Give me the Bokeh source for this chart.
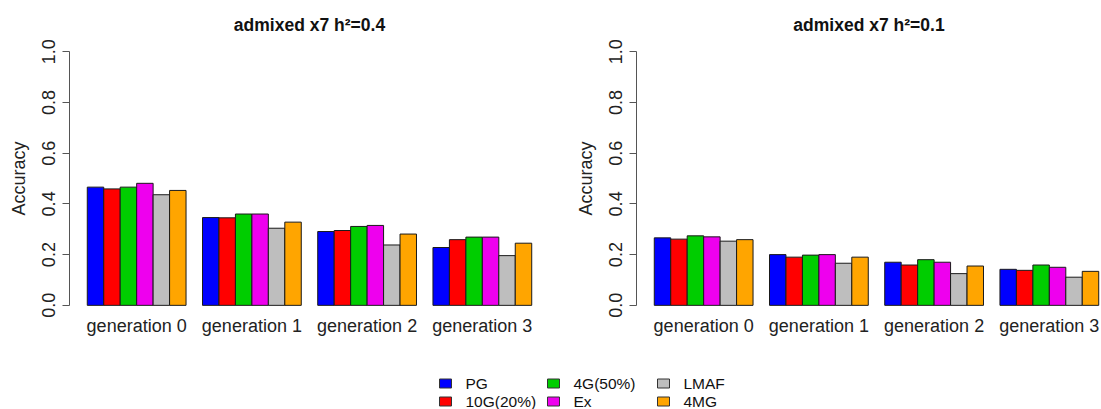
from bokeh.plotting import figure
from bokeh.models import ColumnDataSource, FixedTicker, Range1d
from bokeh.layouts import column, row
from bokeh.embed import file_html
from bokeh.resources import INLINE
from bokeh.core.properties import value

# ---- data -------------------------------------------------------------
generations = ["generation 0", "generation 1", "generation 2", "generation 3"]
methods = ["PG", "10G(20%)", "4G(50%)", "Ex", "LMAF", "4MG"]
colors = ["#0000FF", "#FF0000", "#00CD00", "#EE00EE", "#BEBEBE", "#FFA500"]

# accuracy per method, one value per generation
acc_h04 = {
    "PG":       [0.466, 0.346, 0.291, 0.228],
    "10G(20%)": [0.459, 0.345, 0.295, 0.259],
    "4G(50%)":  [0.466, 0.360, 0.311, 0.269],
    "Ex":       [0.481, 0.360, 0.315, 0.269],
    "LMAF":     [0.436, 0.304, 0.238, 0.196],
    "4MG":      [0.453, 0.328, 0.281, 0.245],
}
acc_h01 = {
    "PG":       [0.266, 0.200, 0.170, 0.142],
    "10G(20%)": [0.261, 0.190, 0.159, 0.138],
    "4G(50%)":  [0.274, 0.198, 0.180, 0.159],
    "Ex":       [0.270, 0.200, 0.170, 0.150],
    "LMAF":     [0.253, 0.166, 0.125, 0.111],
    "4MG":      [0.259, 0.190, 0.155, 0.134],
}
y_ticks = [0.0, 0.2, 0.4, 0.6, 0.8, 1.0]
y_tick_labels = ["0.0", "0.2", "0.4", "0.6", "0.8", "1.0"]

FONT = "Liberation Sans"
n_m = len(methods)
group_w = n_m + 1          # bars of a group plus one bar-width gap
span = len(generations) * group_w - 1
pad = 0.04 * span          # 4% range extension on both sides
x_start = 1 - pad
full_units = span + 2 * pad

PANEL_H = 349
FRAME_TOP = 41
FRAME_BOTTOM = 315
FULL_FRAME_W = 480          # plotting width of a complete panel in px


def bar_panel(title, acc, width, border_left, frame_w):
    left, right, top, fill = [], [], [], []
    for g in range(len(generations)):
        for i, m in enumerate(methods):
            x0 = 1 + g * group_w + i
            left.append(x0)
            right.append(x0 + 1)
            top.append(acc[m][g])
            fill.append(colors[i])
    src = ColumnDataSource(dict(left=left, right=right, top=top,
                                bottom=[0] * len(top), fill=fill))
    x_end = x_start + full_units * frame_w / FULL_FRAME_W
    p = figure(width=width, height=PANEL_H, output_backend="svg",
               toolbar_location=None,
               x_range=Range1d(x_start, x_end),
               y_range=Range1d(-0.04, 1.04),
               min_border_left=border_left,
               min_border_right=width - border_left - frame_w,
               min_border_top=FRAME_TOP,
               min_border_bottom=PANEL_H - FRAME_BOTTOM)
    p.quad(left="left", right="right", top="top", bottom="bottom",
           fill_color="fill", line_color="#1a1a1a", line_width=1, source=src)

    p.title.text = title
    p.title.align = "center"
    p.title.text_font = FONT
    p.title.text_font_size = "17.5px"
    p.title.text_font_style = "bold"
    p.title.text_color = "#111111"
    p.title.standoff = 14

    p.grid.visible = False
    p.outline_line_color = None
    p.background_fill_color = "white"
    p.border_fill_color = "white"

    ya = p.yaxis[0]
    ya.ticker = FixedTicker(ticks=y_ticks)
    ya.major_label_overrides = {t: s for t, s in zip(y_ticks, y_tick_labels)}
    ya.bounds = (0, 1)
    ya.major_label_orientation = "vertical"
    ya.major_label_text_font = FONT
    ya.major_label_text_font_size = "18px"
    ya.major_label_text_color = "#222222"
    ya.major_label_standoff = 7
    ya.axis_line_color = "#555555"
    ya.major_tick_line_color = "#555555"
    ya.major_tick_out = 7
    ya.major_tick_in = 0
    ya.minor_tick_line_color = None
    ya.axis_label = "Accuracy"
    ya.axis_label_text_font = FONT
    ya.axis_label_text_font_size = "18px"
    ya.axis_label_text_font_style = "normal"
    ya.axis_label_text_color = "#222222"
    ya.axis_label_standoff = 11

    centers = [1 + g * group_w + n_m / 2 for g in range(len(generations))]
    xa = p.xaxis[0]
    xa.ticker = FixedTicker(ticks=centers)
    xa.major_label_overrides = {c: lab for c, lab in zip(centers, generations)}
    xa.axis_line_color = None
    xa.major_tick_line_color = None
    xa.minor_tick_line_color = None
    xa.major_tick_out = 0
    xa.major_tick_in = 0
    xa.major_label_standoff = 0
    xa.major_label_text_font = FONT
    xa.major_label_text_font_size = "18px"
    xa.major_label_text_color = "#222222"
    return p


p1 = bar_panel("admixed x7 h\u00b2=0.4", acc_h04, 550, 69, FULL_FRAME_W)
# the right panel's plotting area runs past the page edge and is cut there
p2 = bar_panel("admixed x7 h\u00b2=0.1", acc_h01, 551, 86, 465)

# ---- legend strip (three columns, filled column by column) -----------
LEG_H = 409 - PANEL_H
leg = figure(width=1101, height=LEG_H, output_backend="svg",
             toolbar_location=None,
             x_range=Range1d(0, 1101), y_range=Range1d(LEG_H, 0),
             min_border=0)
leg.axis.visible = False
leg.grid.visible = False
leg.outline_line_color = None
col_x = [445, 553, 663]
row_y = [383 - PANEL_H, 401 - PANEL_H]
lx = [col_x[i // 2] for i in range(n_m)]
ly = [row_y[i % 2] for i in range(n_m)]
leg.rect(x=lx, y=ly, width=12, height=9, width_units="screen",
         height_units="screen", fill_color=colors,
         line_color="#333333", line_width=1)
leg.text(x=[x + 20 for x in lx], y=ly, text=methods,
         text_font=value(FONT), text_font_size="15.5px",
         text_baseline="middle", text_align="left", text_color="#111111")

layout = column(row(p1, p2), leg)
open("out.html", "w").write(file_html(layout, INLINE))
